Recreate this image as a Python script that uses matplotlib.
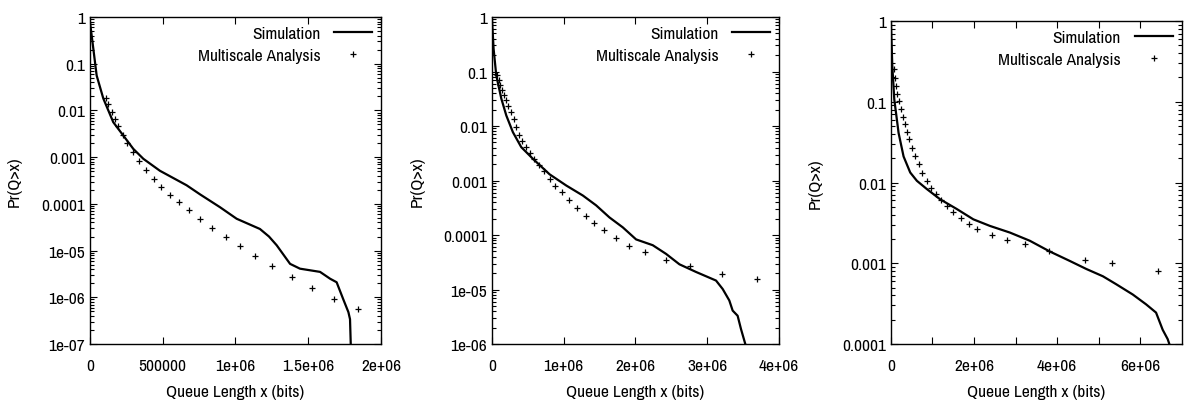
import matplotlib
matplotlib.use('Agg')
import matplotlib.pyplot as plt
from matplotlib.ticker import LogLocator, NullFormatter

plt.rcParams['font.family'] = ['Liberation Sans Narrow', 'Archivo Narrow', 'PT Sans Narrow',
                               'Roboto Condensed', 'Liberation Sans', 'DejaVu Sans']

# panel 1
sim1_x = [0, 22900, 45800, 91600, 160000, 229000, 298000, 367000, 481000, 664000,
          756000, 893000, 1008000, 1168000, 1230000, 1283000, 1375000, 1443000, 1581000,
          1650000, 1695000, 1741000, 1776000, 1787000, 1792000]
sim1_y = [0.78, 0.21, 0.056, 0.018, 0.0056, 0.0029, 0.0015, 0.00092, 5.1e-4, 2.5e-4,
          1.6e-4, 8.5e-5, 4.8e-5, 2.9e-5, 2.0e-5, 1.3e-5, 5.2e-6, 4.1e-6, 3.5e-6,
          2.5e-6, 2.1e-6, 9e-7, 4.8e-7, 3.4e-7, 1e-7]
ma1_x = [110000, 126000, 153500, 174000, 194700, 229000, 256600, 297800, 339000,
         385000, 437600, 490000, 547300, 611700, 678000, 758000, 841000, 935000,
         1029000, 1136000, 1253000, 1386000, 1528000, 1675000, 1840000]
ma1_y = [0.0184, 0.0139, 0.0092, 0.0064, 0.00454, 0.00291, 0.00203, 0.00128, 8.07e-4,
         5.18e-4, 3.43e-4, 2.35e-4, 1.56e-4, 1.09e-4, 7.3e-5, 4.85e-5, 3.11e-5, 1.96e-5,
         1.24e-5, 7.6e-6, 4.7e-6, 2.68e-6, 1.58e-6, 9.4e-7, 5.6e-7]

# panel 2
sim2_x = [0, 23000, 60000, 130000, 200000, 292000, 408000, 571000, 803000, 1035000,
          1267000, 1452000, 1638000, 1824000, 2009000, 2241000, 2427000, 2613000,
          2844000, 3123000, 3216000, 3308000, 3355000, 3424000, 3471000, 3531000]
sim2_y = [0.93, 0.26, 0.085, 0.032, 0.0156, 0.0077, 0.0041, 0.0025, 0.0013, 8.1e-4,
          5.3e-4, 3.5e-4, 2.1e-4, 1.38e-4, 8.3e-5, 6.5e-5, 4.5e-5, 2.9e-5,
          2.1e-5, 1.46e-5, 1.02e-5, 6.3e-6, 4.1e-6, 3.3e-6, 1.88e-6, 1e-6]
ma2_x = [74000, 92800, 116000, 139000, 162000, 195000, 227000, 264000, 302000, 339000,
         381000, 422000, 473000, 529000, 589000, 654000, 724000, 803000, 882000, 974000,
         1076000, 1188000, 1304000, 1429000, 1568000, 1722000, 1907000, 2130000,
         2422000, 2756000, 3206000, 3698000]
ma2_y = [0.0848, 0.0686, 0.0555, 0.045, 0.0364, 0.0294, 0.0232, 0.018, 0.0136, 0.00953,
         0.0067, 0.0052, 0.0041, 0.00318, 0.0025, 0.00194, 0.00148, 0.00107, 8.07e-4, 6.1e-4,
         4.3e-4, 3.1e-4, 2.24e-4, 1.64e-4, 1.22e-4, 8.7e-5, 6.3e-5, 4.8e-5,
         3.5e-5, 2.74e-5, 1.93e-5, 1.56e-5]

# panel 3
sim3_x = [0, 32000, 80000, 184000, 304000, 464000, 624000, 864000, 1184000, 1584000,
          1984000, 2384000, 2864000, 3344000, 3824000, 4304000, 4704000, 5104000,
          5424000, 5824000, 6144000, 6384000, 6544000, 6664000, 6704000]
sim3_y = [0.95, 0.28, 0.107, 0.041, 0.021, 0.0133, 0.0105, 0.0083, 0.0062, 0.0047,
          0.0035, 0.0029, 0.0024, 0.0019, 0.0014, 0.00107, 8.5e-4, 6.9e-4,
          5.5e-4, 4.1e-4, 3.1e-4, 2.45e-4, 1.5e-4, 1.15e-4, 1e-4]
ma3_x = [64000, 88000, 120000, 152000, 192000, 232000, 280000, 328000, 384000, 440000,
         512000, 584000, 664000, 752000, 856000, 968000, 1080000, 1200000, 1344000,
         1504000, 1688000, 1888000, 2064000, 2424000, 2784000, 3240000, 3816000,
         4680000, 5328000, 6440000]
ma3_y = [0.252, 0.199, 0.157, 0.124, 0.102, 0.0807, 0.0649, 0.0527, 0.0428, 0.0344,
         0.0271, 0.0214, 0.0169, 0.0133, 0.0105, 0.00867, 0.00718, 0.00599, 0.00505,
         0.00426, 0.00359, 0.00306, 0.00267, 0.00223, 0.00195, 0.00171, 0.00141,
         0.00109, 0.000995, 0.000807]

xticks1 = [0, 500000, 1000000, 1500000, 2000000]
xlabels1 = ['0', '500000', '1e+06', '1.5e+06', '2e+06']
xticks2 = [0, 1000000, 2000000, 3000000, 4000000]
xlabels2 = ['0', '1e+06', '2e+06', '3e+06', '4e+06']
xticks3 = [0, 2000000, 4000000, 6000000]
xlabels3 = ['0', '2e+06', '4e+06', '6e+06']
xminor3 = [1000000, 3000000, 5000000]

yticks1 = [1, 0.1, 0.01, 0.001, 0.0001, 1e-5, 1e-6, 1e-7]
ylabels1 = ['1', '0.1', '0.01', '0.001', '0.0001', '1e-05', '1e-06', '1e-07']
yticks2 = yticks1[:7]
ylabels2 = ylabels1[:7]
yticks3 = yticks1[:5]
ylabels3 = ylabels1[:5]

fig = plt.figure(figsize=(11.84, 4.10), dpi=100)

panels = [
    ([0.076, 0.1585, 0.2458, 0.7976], sim1_x, sim1_y, ma1_x, ma1_y, 2e6, 1e-7,
     xticks1, xlabels1, [], yticks1, ylabels1),
    ([0.4155, 0.1585, 0.2424, 0.7976], sim2_x, sim2_y, ma2_x, ma2_y, 4e6, 1e-6,
     xticks2, xlabels2, [], yticks2, ylabels2),
    ([0.7525, 0.1585, 0.2455, 0.7878], sim3_x, sim3_y, ma3_x, ma3_y, 7e6, 1e-4,
     xticks3, xlabels3, xminor3, yticks3, ylabels3),
]

fs = 12.5
for rect, sx, sy, mx, my, xmax, ymin, xt, xl, xm, yt, yl in panels:
    ax = fig.add_axes(rect)
    ax.plot(sx, sy, color='black', lw=1.6, label='Simulation')
    ax.plot(mx, my, '+', color='black', ms=4, mew=0.9, label='Multiscale Analysis')
    ax.set_yscale('log')
    ax.set_xlim(0, xmax)
    ax.set_ylim(ymin, 1)
    ax.set_xticks(xt)
    ax.set_xticklabels(xl)
    ax.set_xticks(xm, minor=True)
    ax.set_yticks(yt)
    ax.set_yticklabels(yl)
    ax.yaxis.set_minor_locator(LogLocator(base=10, subs=range(2, 10), numticks=20))
    ax.yaxis.set_minor_formatter(NullFormatter())
    ax.tick_params(which='both', direction='in', top=True, right=True, labelsize=fs)
    ax.tick_params(which='major', length=5, width=0.8)
    ax.tick_params(which='minor', length=3, width=0.8)
    ax.tick_params(axis='x', which='minor', length=5)
    ax.tick_params(axis='x', pad=10)
    for s in ax.spines.values():
        s.set_linewidth(1.0)
    ax.set_ylabel('Pr(Q>x)', fontsize=fs)
    ax.yaxis.set_label_coords(-0.235, 0.5)
    ax.set_xlabel('Queue Length x (bits)', fontsize=fs, labelpad=8)
    ax.legend(loc='upper right', frameon=False, markerfirst=False, fontsize=fs,
              handlelength=2.2, borderaxespad=0.1, labelspacing=0.4, handletextpad=0.8)

fig.savefig('out.png', dpi=100)
